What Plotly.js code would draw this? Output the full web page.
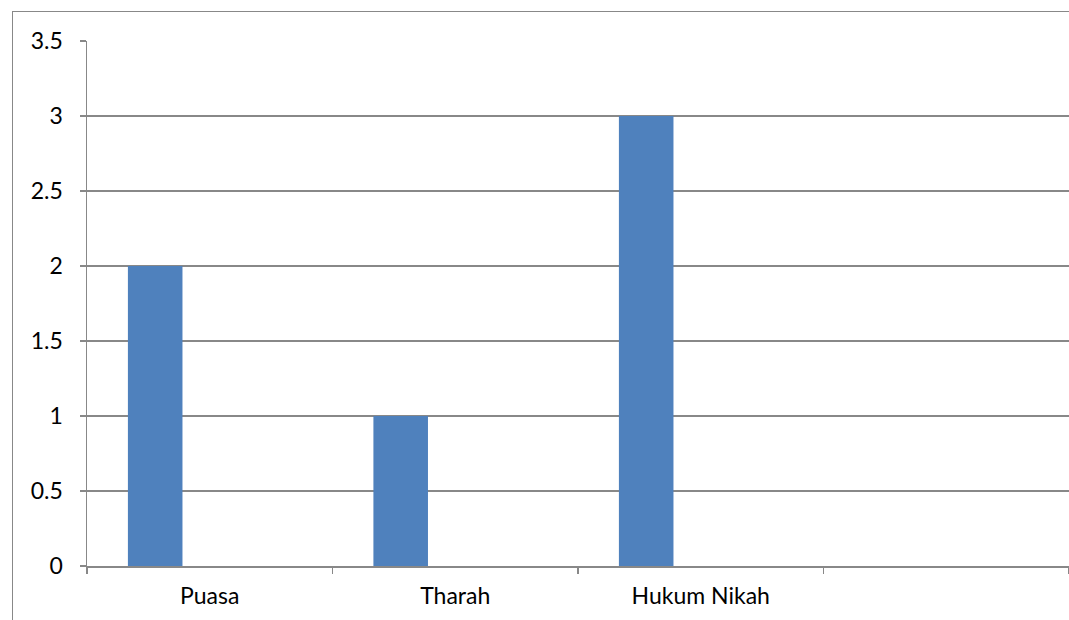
<!DOCTYPE html>
<html>
<head>
<meta charset="utf-8">
<script src="https://cdn.plot.ly/plotly-3.0.1.min.js"></script>
<style>
html,body{margin:0;padding:0;background:#fff;}
#wrap{position:relative;width:1069px;height:620px;}
#chart{position:absolute;left:0;top:0;width:1069px;height:620px;}
#frame{position:absolute;left:12px;top:11px;width:1100px;height:700px;border-left:1.5px solid #888;border-top:1.5px solid #888;pointer-events:none;}
</style>
</head>
<body>
<div id="wrap"><div id="chart"></div><div id="frame"></div></div>
<script>
var categories = ["Puasa", "Tharah", "Hukum Nikah", " "];
var series1 = [2, 1, 3, null];
var series2 = [0, 0, 0, 0];
var series3 = [0, 0, 0, 0];
var yTicks = [0, 0.5, 1, 1.5, 2, 2.5, 3, 3.5];
var yTickText = ["0", "0.5", "1", "1.5", "2", "2.5", "3", "3.5"];

var font = {family: "Lato, 'Open Sans', sans-serif", size: 23, color: "#000"};
var traces = [series1, series2, series3].map(function (v) {
  return {type: "bar", x: categories, y: v, marker: {color: "#4F81BD", line: {width: 0}}, hoverinfo: "none"};
});

var layout = {
  width: 1069, height: 620,
  margin: {l: 87, r: 0, t: 41, b: 54, pad: 0},
  paper_bgcolor: "#fff", plot_bgcolor: "#fff",
  barmode: "group", bargap: 0.3333, bargroupgap: 0,
  showlegend: false,
  font: font,
  xaxis: {
    type: "category", range: [-0.5, 3.5], tickson: "boundaries",
    ticks: "outside", ticklen: 6, tickwidth: 1.5, tickcolor: "#888",
    showline: true, linecolor: "#888", linewidth: 1.5,
    showgrid: false, zeroline: false, tickfont: font, ticklabelstandoff: 9, fixedrange: true
  },
  yaxis: {
    range: [0, 3.5], tickvals: yTicks, ticktext: yTickText,
    ticks: "outside", ticklen: 6, tickwidth: 1.5, tickcolor: "#888",
    showline: true, linecolor: "#888", linewidth: 1.5,
    showgrid: true, gridcolor: "#888", gridwidth: 1.5, zeroline: false,
    tickfont: font, ticklabelstandoff: 12, fixedrange: true
  }
};
Plotly.newPlot("chart", traces, layout, {displayModeBar: false, staticPlot: true});
</script>
</body>
</html>
